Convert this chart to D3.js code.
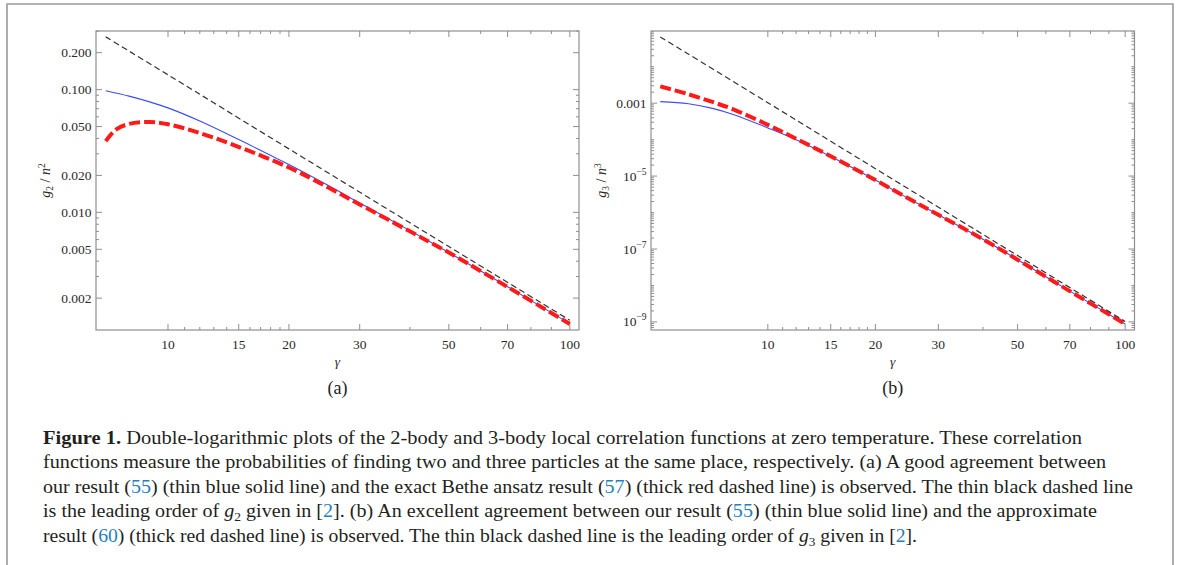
<!DOCTYPE html>
<html>
<head>
<meta charset="utf-8">
<script src="https://cdn.jsdelivr.net/npm/d3@7"></script>
<style>
  body { margin: 0; background: #fff; }
  svg { display: block; }
  text { font-family: "Liberation Serif", "Times New Roman", Times, serif; }
</style>
</head>
<body>
<svg id="fig" width="1181" height="565"></svg>
<script>
// tick values shared by both panels
const xMajor = [10, 15, 20, 30, 50, 70, 100];
const xMinor = [11, 12, 13, 14, 16, 17, 18, 19, 40, 60, 80, 90];

// (a) g2 / n^2
const yMajorA = [0.002, 0.005, 0.01, 0.02, 0.05, 0.1, 0.2];
const yLabelsA = ["0.002", "0.005", "0.010", "0.020", "0.050", "0.100", "0.200"];
const gammaOursA = [7, 8, 9, 10, 12, 15, 20, 25, 30, 40, 50, 70, 100];
const g2Ours = [0.098, 0.0885, 0.0795, 0.071, 0.0555, 0.0392, 0.0245, 0.0166, 0.0119, 0.0071, 0.0047, 0.00248, 0.00124];
const gammaExactA = [7, 7.4, 8, 9, 10, 11.7, 14.7, 20, 25, 30, 40, 50, 70, 100];
const g2Exact = [0.038, 0.047, 0.0526, 0.0545, 0.0522, 0.0455, 0.035, 0.0232, 0.016, 0.0116, 0.007, 0.0047, 0.00247, 0.00123];
const gammaLeadA = [7, 10, 20, 50, 100];
const g2Lead = [0.269, 0.132, 0.0329, 0.00526, 0.00132];

// (b) g3 / n^3
const yMajorB = [1e-3, 1e-5, 1e-7, 1e-9];
const yLabelsB = [["0.001", ""], ["10", "\u22125"], ["10", "\u22127"], ["10", "\u22129"]];
const gammaB = [5, 6, 7, 8, 10, 12, 15, 20, 25, 30, 40, 50, 70, 100];
const g3Ours = [1.1e-3, 9.6e-4, 7.2e-4, 4.9e-4, 2.1e-4, 1.0e-4, 3.45e-5, 7.8e-6, 2.3e-6, 8.7e-7, 1.85e-7, 5.1e-8, 7.0e-9, 8.8e-10];
const g3Approx = [2.9e-3, 1.75e-3, 1.08e-3, 6.8e-4, 2.55e-4, 1.06e-4, 3.5e-5, 7.8e-6, 2.3e-6, 8.7e-7, 1.85e-7, 5.1e-8, 7.0e-9, 8.8e-10];
const gammaLeadB = [5, 10, 20, 50, 100];
const g3Lead = [0.0656, 1.03e-3, 1.6e-5, 6.6e-8, 1.03e-9];

const FRAME = "#8f8f8f";

var svg = d3.select("#fig");

// outer figure box (only top and sides are visible)
svg.append("path")
  .attr("d", "M7,566 V4 H1173 V566")
  .attr("fill", "none")
  .attr("stroke", "#9a9a9a")
  .attr("stroke-width", 1.6);

function minorDecades(lo, hi) {
  var out = [];
  for (var e = Math.floor(Math.log10(lo)); e <= Math.ceil(Math.log10(hi)); e++) {
    for (var m = 1; m <= 9; m++) {
      var v = m * Math.pow(10, e);
      if (v > lo && v < hi) out.push(v);
    }
  }
  return out;
}

function drawPanel(p) {
  var g = svg.append("g");
  var x = d3.scaleLog().domain(p.xDomain).range([p.left, p.right]);
  var y = d3.scaleLog().domain(p.yDomain).range([p.bottom, p.top]);

  // frame
  g.append("rect")
    .attr("x", p.left).attr("y", p.top)
    .attr("width", p.right - p.left).attr("height", p.bottom - p.top)
    .attr("fill", "none").attr("stroke", FRAME).attr("stroke-width", 1.2);

  // x ticks, pointing inward, bottom and top
  var xt = xMajor.map(v => [v, 6]).concat(xMinor.map(v => [v, 3]));
  g.selectAll(".xt").data(xt).enter().append("path")
    .attr("d", d => "M" + x(d[0]) + "," + p.bottom + "v" + (-d[1]) +
      "M" + x(d[0]) + "," + p.top + "v" + d[1])
    .attr("stroke", FRAME).attr("stroke-width", 1);

  // y ticks, left and right
  var yt = p.yMajor.map(v => [v, 6]).concat(p.yMinor.map(v => [v, 3]));
  g.selectAll(".yt").data(yt).enter().append("path")
    .attr("d", d => "M" + p.left + "," + y(d[0]) + "h" + d[1] +
      "M" + p.right + "," + y(d[0]) + "h" + (-d[1]))
    .attr("stroke", FRAME).attr("stroke-width", 1);

  // x tick labels
  g.selectAll(".xl").data(xMajor).enter().append("text")
    .attr("x", d => x(d)).attr("y", p.bottom + 18.5)
    .attr("text-anchor", "middle")
    .attr("font-size", 13.5).attr("fill", "#2a2a2a")
    .text(d => d);

  // y tick labels
  var yl = g.selectAll(".yl").data(p.yMajor).enter().append("text")
    .attr("x", p.left - 4.5).attr("y", d => y(d) + 4.5)
    .attr("text-anchor", "end")
    .attr("font-size", 13.5).attr("fill", "#2a2a2a");
  yl.append("tspan").text((d, i) => p.yLabels[i][0]);
  yl.append("tspan").attr("dy", -6).attr("font-size", 9.5)
    .text((d, i) => p.yLabels[i][1]);

  // curves
  var line = d3.line().x(d => x(d[0])).y(d => y(d[1])).curve(d3.curveCatmullRom.alpha(0.5));
  g.append("path").datum(d3.zip(p.gOurs, p.vOurs))
    .attr("d", line).attr("fill", "none")
    .attr("stroke", "#3a4cff").attr("stroke-width", 1.1);
  g.append("path").datum(d3.zip(p.gRef, p.vRef))
    .attr("d", line).attr("fill", "none")
    .attr("stroke", "#ff1a1a").attr("stroke-width", 4)
    .attr("stroke-dasharray", "11,4");
  g.append("path").datum(d3.zip(p.gLead, p.vLead))
    .attr("d", line).attr("fill", "none")
    .attr("stroke", "#333").attr("stroke-width", 1.2)
    .attr("stroke-dasharray", "6,3.5");

  // axis labels
  var cx = (p.left + p.right) / 2;
  g.append("text")
    .attr("x", cx).attr("y", p.bottom + 36)
    .attr("text-anchor", "middle")
    .attr("font-style", "italic")
    .attr("font-size", 13.5).attr("fill", "#2a2a2a")
    .text("\u03b3");

  var yLab = g.append("text")
    .attr("transform", "translate(" + p.yLabelX + "," + ((p.top + p.bottom) / 2) + ") rotate(-90)")
    .attr("text-anchor", "middle")
    .attr("font-size", 14).attr("fill", "#2a2a2a");
  yLab.append("tspan").attr("font-style", "italic").text("g");
  yLab.append("tspan").attr("dy", 3).attr("font-size", 9.5).text(p.power);
  yLab.append("tspan").attr("dy", -3).text(" / ");
  yLab.append("tspan").attr("font-style", "italic").text("n");
  yLab.append("tspan").attr("dy", -5).attr("font-size", 9.5).text(p.power);

  svg.append("text")
    .attr("x", cx).attr("y", p.bottom + 64)
    .attr("text-anchor", "middle")
    .attr("font-size", 18).attr("fill", "#222")
    .text(p.tag);
}

drawPanel({
  left: 96, right: 579, top: 31, bottom: 330,
  xDomain: [6.62, 105.4], yDomain: [0.0011, 0.3004],
  yMajor: yMajorA, yLabels: yLabelsA.map(s => [s, ""]),
  yMinor: minorDecades(0.0011, 0.3004).filter(v => !yMajorA.some(m => Math.abs(m - v) / m < 1e-6)),
  gOurs: gammaOursA, vOurs: g2Ours,
  gRef: gammaExactA, vRef: g2Exact,
  gLead: gammaLeadA, vLead: g2Lead,
  yLabelX: 50, power: "2", tag: "(a)"
});

drawPanel({
  left: 651, right: 1134.5, top: 31, bottom: 330,
  xDomain: [4.71, 106.2], yDomain: [6.0e-10, 0.0955],
  yMajor: yMajorB, yLabels: yLabelsB,
  yMinor: minorDecades(6.0e-10, 0.0955).filter(v => !yMajorB.some(m => Math.abs(m - v) / m < 1e-6)),
  gOurs: gammaB, vOurs: g3Ours,
  gRef: gammaB, vRef: g3Approx,
  gLead: gammaLeadB, vLead: g3Lead,
  yLabelX: 606, power: "3", tag: "(b)"
});

// caption
const LINK = "#1f7fc0";
const captionLines = [
  { end: 1082, parts: [["Figure 1.", "b"], [" Double-logarithmic plots of the 2-body and 3-body local correlation functions at zero temperature. These correlation"]] },
  { end: 1106, parts: [["functions measure the probabilities of finding two and three particles at the same place, respectively. (a) A good agreement between"]] },
  { end: 1133, parts: [["our result ("], ["55", "l"], [") (thin blue solid line) and the exact Bethe ansatz result ("], ["57", "l"], [") (thick red dashed line) is observed. The thin black dashed line"]] },
  { end: 1097, parts: [["is the leading order of "], ["g", "i"], ["2", "sub"], [" given in ["], ["2", "l"], ["]. (b) An excellent agreement between our result ("], ["55", "l"], [") (thin blue solid line) and the approximate"]] },
  { end: 917, parts: [["result ("], ["60", "l"], [") (thick red dashed line) is observed. The thin black dashed line is the leading order of "], ["g", "i"], ["3", "sub"], [" given in ["], ["2", "l"], ["]."]] }
];

captionLines.forEach(function (ln, i) {
  var t = svg.append("text")
    .attr("x", 43).attr("y", 443.5 + i * 24.5)
    .attr("font-size", 18.5).attr("fill", "#231f20")
    .attr("textLength", ln.end - 43).attr("lengthAdjust", "spacingAndGlyphs");
  var prevSub = false;
  ln.parts.forEach(function (pt) {
    var s = t.append("tspan").text(pt[0]);
    if (pt[1] === "b") s.attr("font-weight", "bold");
    if (pt[1] === "l") s.attr("fill", LINK);
    if (pt[1] === "i") s.attr("font-style", "italic");
    if (pt[1] === "sub") s.attr("font-size", 12.5).attr("dy", 4);
    else if (prevSub) s.attr("dy", -4);
    prevSub = pt[1] === "sub";
  });
});
</script>
</body>
</html>
